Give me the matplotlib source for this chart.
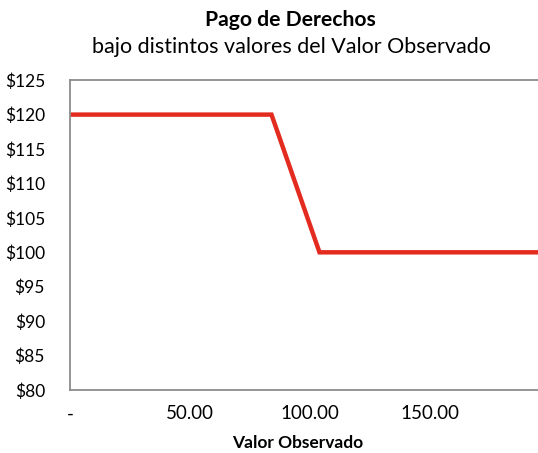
import matplotlib.pyplot as plt

# datos
valor_observado = [0, 84, 104, 200]
pago_derechos = [120, 120, 100, 100]
x_ticks = [0, 50, 100, 150]
x_labels = ["-", "50.00", "100.00", "150.00"]
y_ticks = [80, 85, 90, 95, 100, 105, 110, 115, 120, 125]

plt.rcParams['font.family'] = ['Lato', 'DejaVu Sans']

fig = plt.figure(figsize=(5.38, 4.53), dpi=100)
ax = fig.add_axes([0.130, 0.139, 0.892, 0.684])

ax.plot(valor_observado, pago_derechos, color='#e32b1f', linewidth=3.2,
        solid_joinstyle='miter')

ax.set_xlim(0, 200)
ax.set_ylim(80, 125)
ax.set_yticks(y_ticks)
ax.set_yticklabels([f"${v}" for v in y_ticks])
ax.set_xticks(x_ticks)
ax.set_xticklabels(x_labels)
ax.tick_params(axis='both', length=0, labelsize=12.5, colors='black')
ax.tick_params(axis='x', labelsize=13.5, pad=11)
ax.tick_params(axis='y', pad=18)

for s in ax.spines.values():
    s.set_color('#8c8c8c')
    s.set_linewidth(1.3)

ax.set_xlabel("Valor Observado", fontsize=12.5, fontweight='bold')
ax.xaxis.set_label_coords(0.475, -0.145)

fig.text(0.539, 0.955, "Pago de Derechos", ha='center', va='center',
         fontsize=15.2, fontweight='bold')
fig.text(0.541, 0.896, "bajo distintos valores del Valor Observado",
         ha='center', va='center', fontsize=15.5)

fig.savefig("out.png", dpi=100)
